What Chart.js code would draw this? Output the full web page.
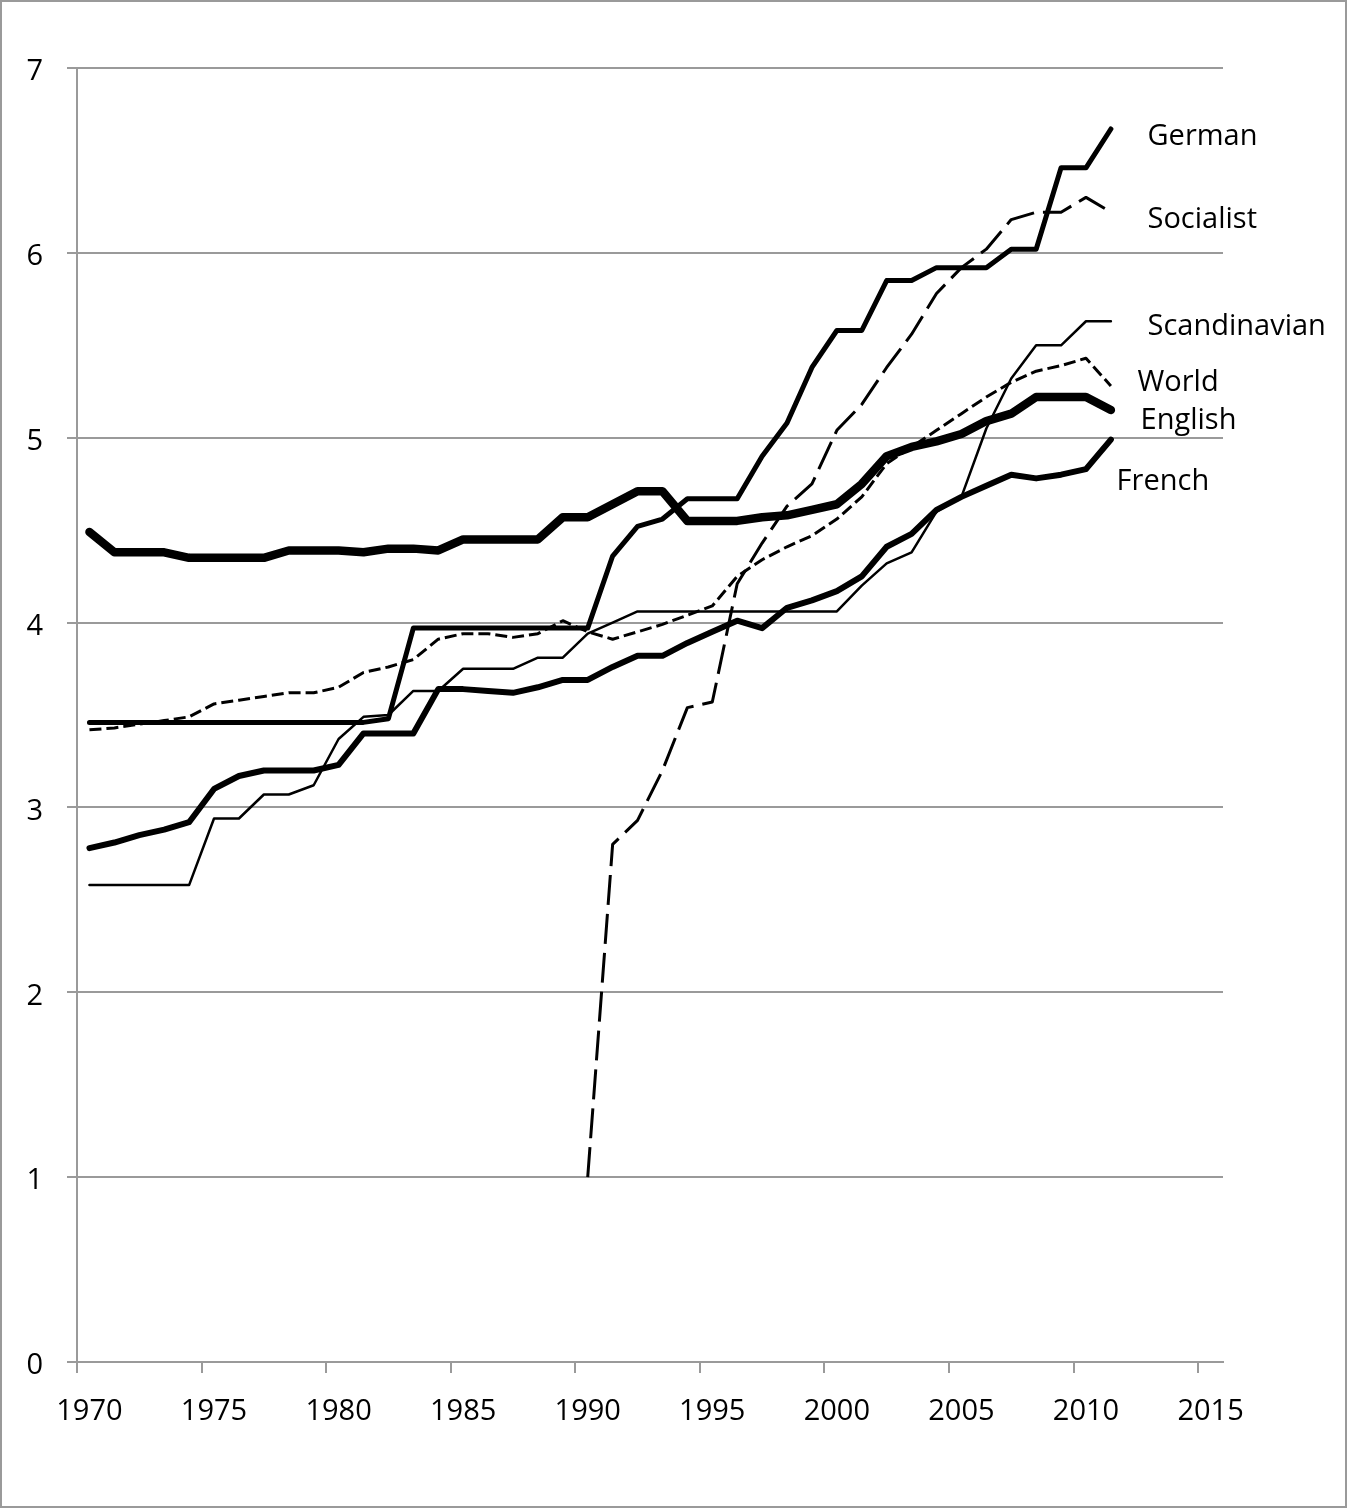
<!DOCTYPE html>
<html>
<head>
<meta charset="utf-8">
<script src="https://cdn.jsdelivr.net/npm/chart.js@4.4.1/dist/chart.umd.min.js"></script>
<style>
  html, body { margin: 0; padding: 0; background: #fff; }
  canvas { display: block; }
</style>
</head>
<body>
<canvas id="chart" width="1347" height="1508"></canvas>
<script>
// categories: one slot per year, data runs 1970-2011
const years = Array.from({ length: 46 }, (_, i) => String(1970 + i));

const english = [4.49, 4.38, 4.38, 4.38, 4.35, 4.35, 4.35, 4.35, 4.39, 4.39,
  4.39, 4.38, 4.40, 4.40, 4.39, 4.45, 4.45, 4.45, 4.45, 4.57,
  4.57, 4.64, 4.71, 4.71, 4.55, 4.55, 4.55, 4.57, 4.58, 4.61,
  4.64, 4.75, 4.90, 4.95, 4.98, 5.02, 5.09, 5.13, 5.22, 5.22,
  5.22, 5.15];
const german = [3.46, 3.46, 3.46, 3.46, 3.46, 3.46, 3.46, 3.46, 3.46, 3.46,
  3.46, 3.46, 3.48, 3.97, 3.97, 3.97, 3.97, 3.97, 3.97, 3.97,
  3.97, 4.36, 4.52, 4.56, 4.67, 4.67, 4.67, 4.90, 5.08, 5.38,
  5.58, 5.58, 5.85, 5.85, 5.92, 5.92, 5.92, 6.02, 6.02, 6.46,
  6.46, 6.67];
const french = [2.78, 2.81, 2.85, 2.88, 2.92, 3.10, 3.17, 3.20, 3.20, 3.20,
  3.23, 3.40, 3.40, 3.40, 3.64, 3.64, 3.63, 3.62, 3.65, 3.69,
  3.69, 3.76, 3.82, 3.82, 3.89, 3.95, 4.01, 3.97, 4.08, 4.12,
  4.17, 4.25, 4.41, 4.48, 4.61, 4.68, 4.74, 4.80, 4.78, 4.80,
  4.83, 4.99];
const scandinavian = [2.58, 2.58, 2.58, 2.58, 2.58, 2.94, 2.94, 3.07, 3.07, 3.12,
  3.37, 3.49, 3.50, 3.63, 3.63, 3.75, 3.75, 3.75, 3.81, 3.81,
  3.94, 4.00, 4.06, 4.06, 4.06, 4.06, 4.06, 4.06, 4.06, 4.06,
  4.06, 4.20, 4.32, 4.38, 4.60, 4.68, 5.05, 5.32, 5.50, 5.50,
  5.63, 5.63];
const world = [3.42, 3.43, 3.45, 3.47, 3.49, 3.56, 3.58, 3.60, 3.62, 3.62,
  3.65, 3.73, 3.76, 3.80, 3.91, 3.94, 3.94, 3.92, 3.94, 4.01,
  3.95, 3.91, 3.95, 3.99, 4.04, 4.09, 4.25, 4.34, 4.41, 4.47,
  4.56, 4.68, 4.86, 4.95, 5.04, 5.13, 5.22, 5.30, 5.36, 5.39,
  5.43, 5.28];
const socialist = [null, null, null, null, null, null, null, null, null, null,
  null, null, null, null, null, null, null, null, null, null,
  1.00, 2.80, 2.93, 3.20, 3.54, 3.57, 4.21, 4.43, 4.63, 4.75,
  5.04, 5.18, 5.38, 5.56, 5.78, 5.92, 6.02, 6.18, 6.22, 6.22,
  6.30, 6.22];

// series names written at the right end of the lines
const labelNames = ["German", "Socialist", "Scandinavian", "World", "English", "French"];
const labelSlot = [42.47, 42.47, 42.47, 42.07, 42.19, 41.23];
const labelValue = [6.63, 6.18, 5.60, 5.30, 5.09, 4.76];

const FONT = "'Open Sans', 'Noto Sans', sans-serif";
const GRID = "#9a9a9a";

function line(data, width, dash) {
  return {
    data: data,
    borderColor: "#000",
    borderWidth: width,
    borderDash: dash || [],
    borderJoinStyle: "round",
    borderCapStyle: dash ? "butt" : "round",
    pointRadius: 0,
    tension: 0,
    fill: false,
    spanGaps: false,
  };
}

const labelPlugin = {
  id: "endLabels",
  afterDatasetsDraw(chart) {
    const c = chart.ctx;
    const x = chart.scales.x, y = chart.scales.y;
    c.save();
    c.font = "29px " + FONT;
    c.fillStyle = "#000";
    c.textAlign = "left";
    c.textBaseline = "middle";
    labelNames.forEach((name, i) => {
      c.fillText(name, x.getPixelForValue(labelSlot[i]), y.getPixelForValue(labelValue[i]));
    });
    c.restore();
  },
};

const framePlugin = {
  id: "frame",
  beforeDraw(chart) {
    const c = chart.ctx;
    c.save();
    c.fillStyle = "#fff";
    c.fillRect(0, 0, chart.width, chart.height);
    c.restore();
  },
  afterDraw(chart) {
    const c = chart.ctx;
    c.save();
    c.strokeStyle = "#9a9a9a";
    c.lineWidth = 2;
    c.strokeRect(1, 1, chart.width - 2, chart.height - 2);
    c.restore();
  },
};

new Chart(document.getElementById("chart"), {
  type: "line",
  data: {
    labels: years,
    datasets: [
      line(scandinavian, 2.5),
      line(world, 3, [12, 5]),
      line(socialist, 3, [30, 9]),
      line(french, 6),
      line(german, 5),
      line(english, 8.5),
    ],
  },
  options: {
    responsive: false,
    animation: false,
    devicePixelRatio: 1,
    layout: { padding: { left: 0, top: 68, right: 124, bottom: 66 } },
    plugins: { legend: { display: false }, tooltip: { enabled: false } },
    scales: {
      x: {
        type: "category",
        offset: true,
        afterFit(scale) { scale.height = 80; },
        border: { display: true, color: GRID, width: 2 },
        grid: {
          offset: true,
          drawOnChartArea: false,
          drawTicks: true,
          tickLength: 11,
          lineWidth: 2,
          color: (ctx) => (ctx.index !== undefined && ctx.index % 5 === 0 ? GRID : "rgba(0,0,0,0)"),
        },
        ticks: {
          autoSkip: false,
          maxRotation: 0,
          padding: 21,
          color: "#000",
          font: { family: FONT, size: 29 },
          callback: function (value, index) {
            return index % 5 === 0 ? this.getLabelForValue(value) : "";
          },
        },
      },
      y: {
        min: 0,
        max: 7,
        afterFit(scale) { scale.width = 77; },
        border: { display: true, color: GRID, width: 2 },
        grid: { color: GRID, lineWidth: 2, tickLength: 10 },
        ticks: {
          stepSize: 1,
          padding: 24,
          labelOffset: 4,
          color: "#000",
          font: { family: FONT, size: 29 },
        },
      },
    },
  },
  plugins: [framePlugin, labelPlugin],
});
</script>
</body>
</html>
